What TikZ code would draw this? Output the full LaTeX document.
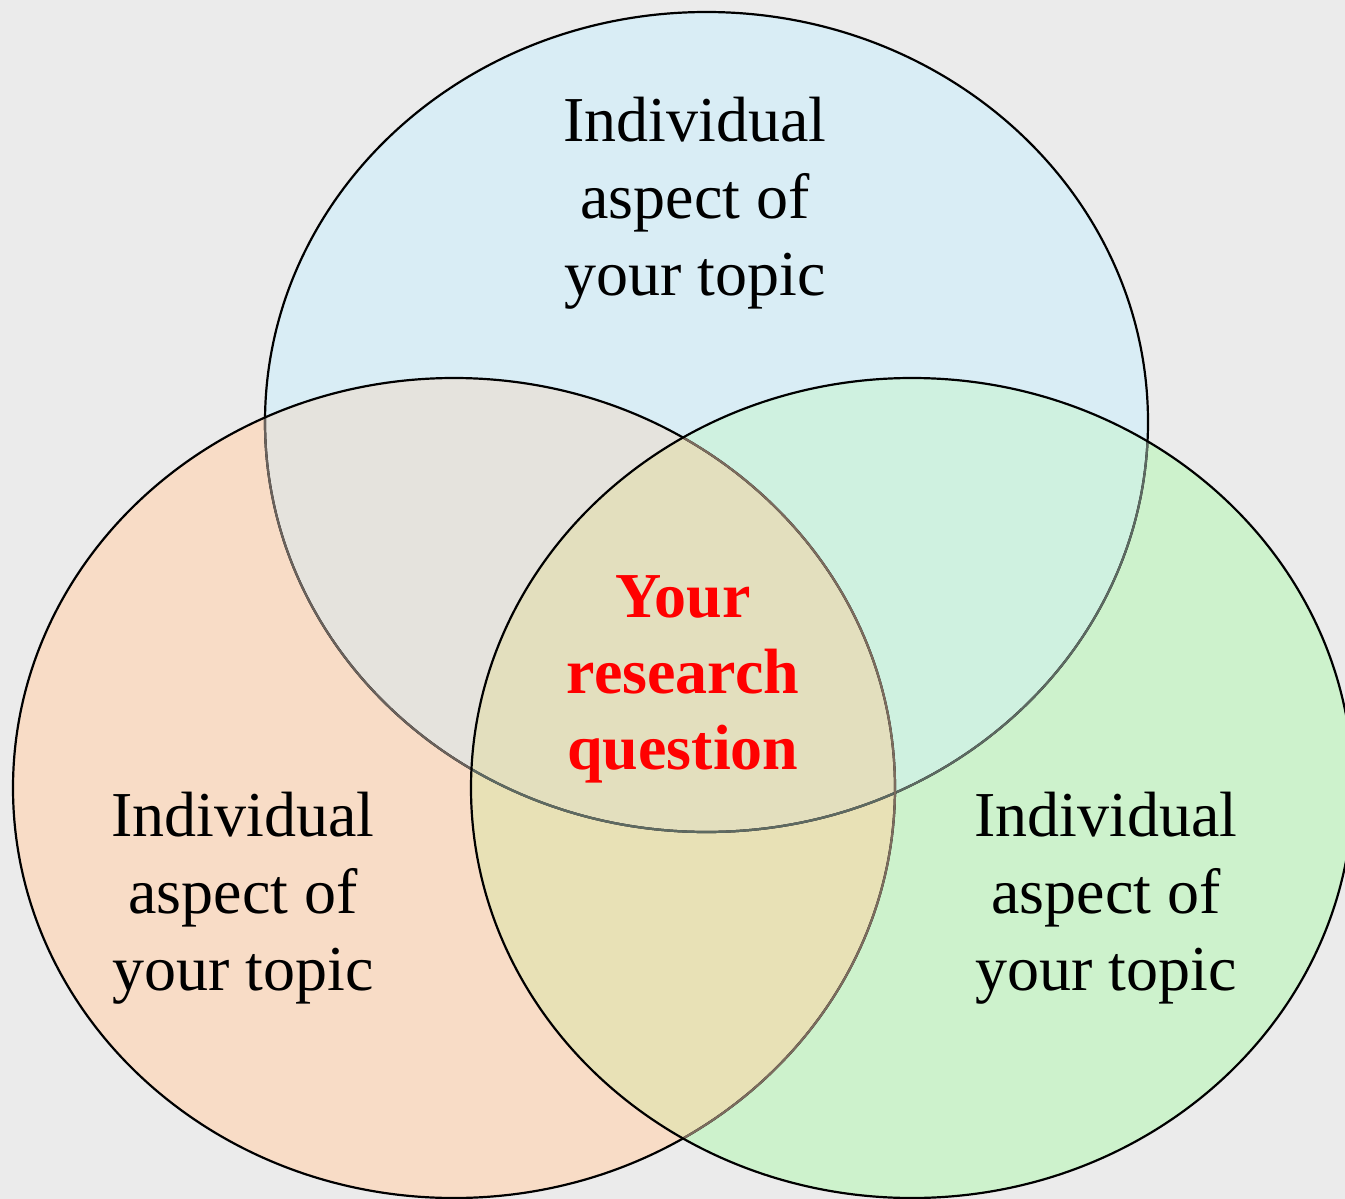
\documentclass[tikz,border=0pt]{standalone}
\usepackage{fontspec}
\setmainfont{Liberation Serif}
\definecolor{bg}{HTML}{EBEBEB}
\definecolor{cT}{HTML}{D9EDF5}
\definecolor{cL}{HTML}{F8DCC6}
\definecolor{cR}{HTML}{CDF2CC}
\definecolor{cTL}{HTML}{E5E3DD}
\definecolor{cTR}{HTML}{CFF1E0}
\definecolor{cLR}{HTML}{E8E1B6}
\definecolor{cTLR}{HTML}{E3DFBE}
\definecolor{sTL}{HTML}{6A625C}
\definecolor{sTR}{HTML}{5D6A62}
\definecolor{sLR}{HTML}{7C6C5E}
\begin{document}
\begin{tikzpicture}[x=1pt,y=-1pt,
 topE/.style={insert path={(706.5,422) ellipse [x radius=441.5pt, y radius=410pt]}},
 leftE/.style={insert path={(454,788) ellipse [x radius=441pt, y radius=410pt]}},
 rightE/.style={insert path={(912,788) ellipse [x radius=441pt, y radius=410pt]}},
 lbl/.style={align=center, font=\fontsize{64}{77}\selectfont, inner sep=0pt},
 outl/.style={line width=2.2pt}]
\fill[bg] (0,0) rectangle (1345,1199);
\useasboundingbox (0,0) rectangle (1345,1199);
\begin{scope}
\clip (0,0) rectangle (1345,1199);
% base fills
\fill[cT, topE];
\fill[cL, leftE];
\fill[cR, rightE];
% pairwise overlaps
\begin{scope}\clip[topE]; \fill[cTL, leftE]; \end{scope}
\begin{scope}\clip[topE]; \fill[cTR, rightE]; \end{scope}
\begin{scope}\clip[leftE]; \fill[cLR, rightE]; \end{scope}
% triple overlap
\begin{scope}\clip[topE]; \clip[leftE]; \fill[cTLR, rightE]; \end{scope}
% outlines
\draw[outl, black, topE];
\begin{scope}\clip[leftE]; \draw[outl, sTL, topE]; \end{scope}
\begin{scope}\clip[rightE]; \draw[outl, sTR, topE]; \end{scope}
\draw[outl, black, leftE];
\begin{scope}\clip[rightE]; \draw[outl, sLR, leftE]; \end{scope}
\draw[outl, black, rightE];
\end{scope}
% labels
\node[lbl] (tt) at (695,203) {Individual\\aspect of\\your topic};
\node[lbl] (lt) at (243,898) {Individual\\aspect of\\your topic};
\node[lbl] (rt) at (1106,898) {Individual\\aspect of\\your topic};
\node[lbl, text=red, font=\fontsize{64}{76}\selectfont\bfseries] (rq) at (683,679) {Your\\research\\question};
\end{tikzpicture}
\end{document}
